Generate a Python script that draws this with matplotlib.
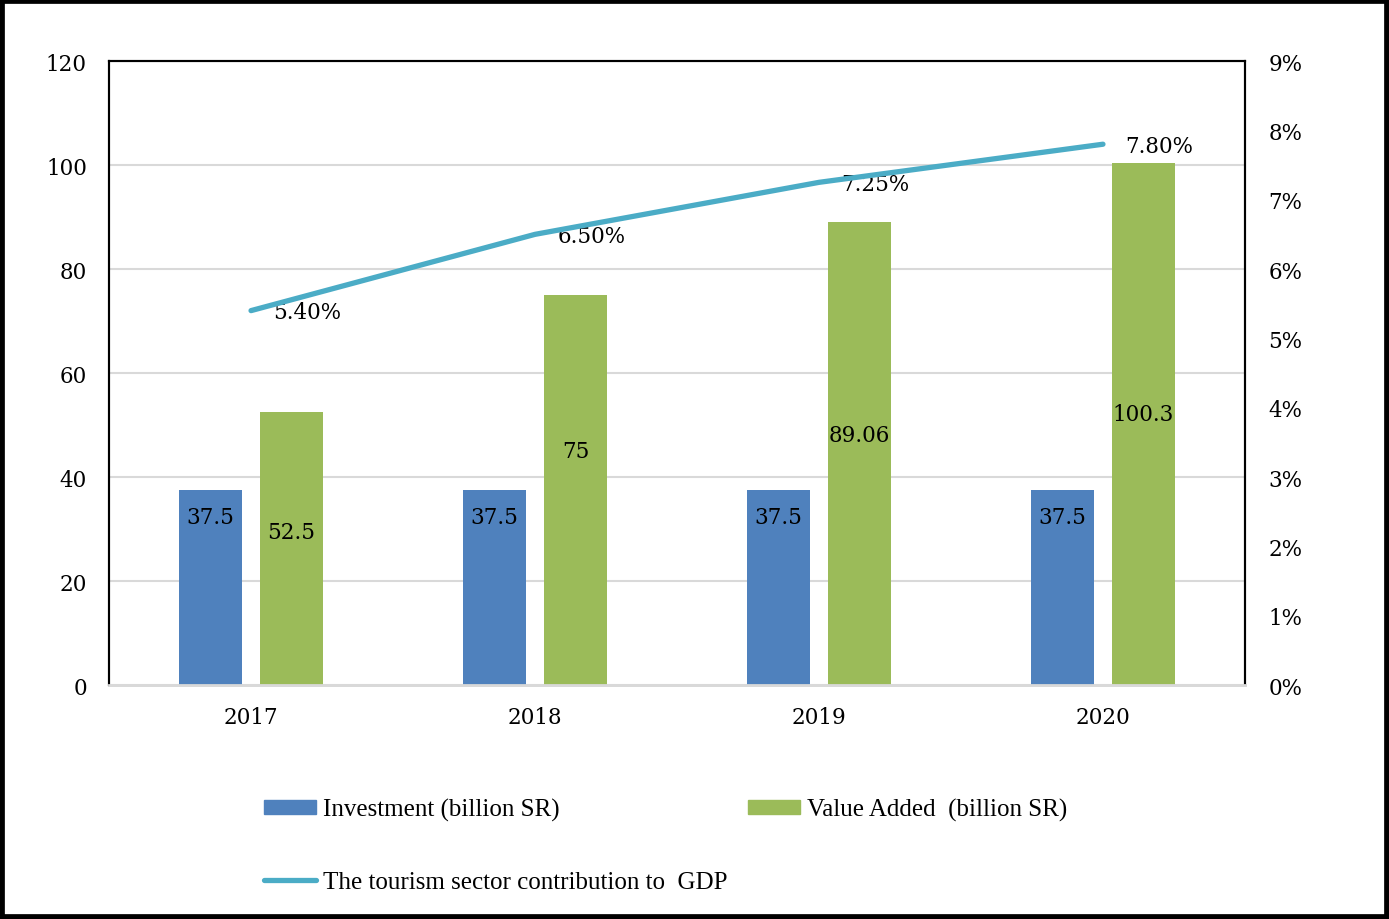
import matplotlib.pyplot as plt
from matplotlib.patches import Rectangle, Patch
from matplotlib.lines import Line2D
import numpy as np

years = ['2017', '2018', '2019', '2020']
investment = [37.5, 37.5, 37.5, 37.5]
value_added = [52.5, 75, 89.06, 100.3]
gdp_share = [5.40, 6.50, 7.25, 7.80]  # percent

inv_labels = ['37.5', '37.5', '37.5', '37.5']
va_labels = ['52.5', '75', '89.06', '100.3']

# where the bar labels sit, as a fraction of the bar height (layout only)
inv_label_pos = [0.86, 0.86, 0.86, 0.86]
va_label_pos = [0.56, 0.60, 0.54, 0.52]

blue = '#4F81BD'
green = '#9BBB59'
teal = '#4BACC6'
grid_gray = '#D9D9D9'

plt.rcParams['font.family'] = ['DejaVu Serif', 'Liberation Serif']
fs = 15.5

fig = plt.figure(figsize=(13.89, 9.20), dpi=100)
ax = fig.add_axes([0.0785, 0.2543, 0.8178, 0.6783])
ax2 = ax.twinx()

x = np.arange(len(years))
w = 0.222
off = 0.1426
ax.bar(x - off, investment, w, color=blue, zorder=3)
ax.bar(x + off, value_added, w, color=green, zorder=3)

for i in range(len(years)):
    ax.text(x[i] - off, investment[i] * inv_label_pos[i], inv_labels[i],
            ha='center', va='center', fontsize=fs, zorder=4)
    ax.text(x[i] + off, value_added[i] * va_label_pos[i], va_labels[i],
            ha='center', va='center', fontsize=fs, zorder=4)

ax.set_xlim(-0.5, 3.5)
ax.set_ylim(0, 120)
ax.set_yticks(range(0, 121, 20))
ax.set_xticks(x)
ax.set_xticklabels(years)
ax.yaxis.grid(True, color=grid_gray, linewidth=1.5, zorder=0)
ax.set_axisbelow(True)
ax.tick_params(axis='both', length=0, labelsize=fs)
ax.tick_params(axis='y', pad=16)
ax.tick_params(axis='x', pad=15)

ax2.plot(x, [g / 100 for g in gdp_share], color=teal, linewidth=3.8,
         solid_capstyle='round', zorder=5)
for i in range(len(years)):
    ax2.annotate('%.2f%%' % gdp_share[i], (x[i], gdp_share[i] / 100),
                 xytext=(16, -1), textcoords='offset points',
                 ha='left', va='center', fontsize=fs)
ax2.set_ylim(0, 0.09)
ax2.set_yticks([i / 100 for i in range(10)])
ax2.set_yticklabels(['%d%%' % i for i in range(10)])
ax2.tick_params(axis='y', length=0, labelsize=fs, pad=17)

for a in (ax, ax2):
    for s in ('left', 'top', 'right'):
        a.spines[s].set_color('black')
        a.spines[s].set_linewidth(1.5)
    a.spines['bottom'].set_color(grid_gray)
    a.spines['bottom'].set_linewidth(2)

handles = [Patch(color=blue),
           Line2D([0], [0], color=teal, linewidth=3.8, solid_capstyle='round'),
           Patch(color=green)]
labels = ['Investment (billion SR)',
          'The tourism sector contribution to  GDP',
          'Value Added  (billion SR)']
fig.legend(handles, labels, ncol=2, loc='upper left',
           bbox_to_anchor=(0.1828, 0.142), frameon=False,
           prop={'family': 'Liberation Serif', 'size': 18},
           handlelength=2.1, handleheight=0.5, handletextpad=0.25,
           labelspacing=2.0, columnspacing=0.83, borderaxespad=0)

fig.patches.append(Rectangle((0, 0), 1, 1, transform=fig.transFigure,
                             fill=False, edgecolor='black', linewidth=7))

fig.savefig('out.png', dpi=100)
